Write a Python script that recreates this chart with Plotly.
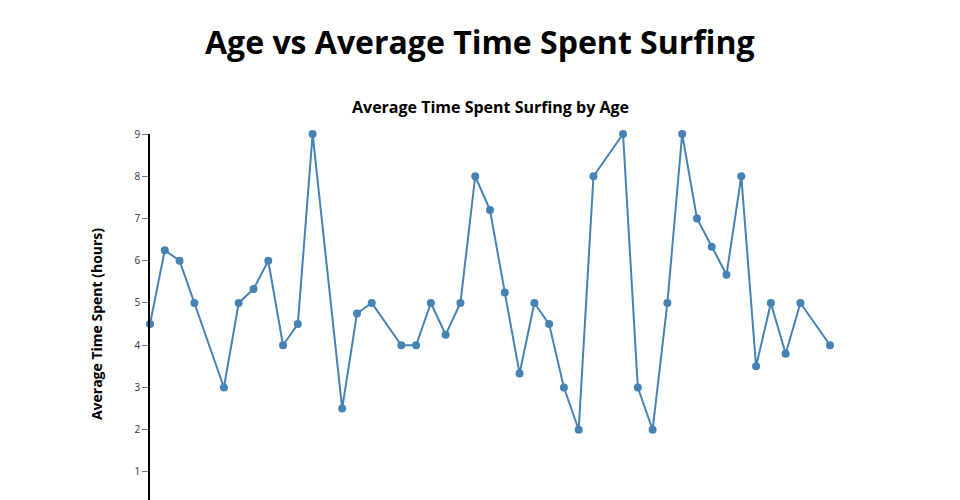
import plotly.graph_objects as go

# ages (x) and average hours spent surfing (y)
ages = [18, 19, 20, 21, 23, 24, 25, 26, 27, 28, 29, 31, 32, 33, 35, 36, 37, 38, 39, 40, 41,
        42, 43, 44, 45, 46, 47, 48, 50, 51, 52, 53, 54, 55, 56, 57, 58, 59, 60, 61, 62, 64]
avg_hours = [4.5, 6.25, 6.0, 5.0, 3.0, 5.0, 5.33, 6.0, 4.0, 4.5, 9.0, 2.5, 4.75, 5.0, 4.0, 4.0,
             5.0, 4.25, 5.0, 8.0, 7.2, 5.25, 3.33, 5.0, 4.5, 3.0, 2.0, 8.0, 9.0, 3.0, 2.0, 5.0,
             9.0, 7.0, 6.33, 5.67, 8.0, 3.5, 5.0, 3.8, 5.0, 4.0]
y_ticks = [1, 2, 3, 4, 5, 6, 7, 8, 9]

FONT = 'Open Sans'
STEEL = '#4682b4'

fig = go.Figure()
fig.add_trace(go.Scatter(x=ages, y=avg_hours, mode='lines+markers', cliponaxis=False,
                         line=dict(color=STEEL, width=2),
                         marker=dict(color=STEEL, size=8),
                         name='Average Time Spent'))

# page body adds an 8px margin, so the figure is shifted left/up by that much
fig.update_layout(
    width=952, height=492,
    margin=dict(l=142, r=130, t=126, b=0),
    paper_bgcolor='white', plot_bgcolor='white',
    showlegend=False,
    font=dict(family=FONT, color='#333'),
    xaxis=dict(range=[min(ages), max(ages)], showgrid=False, zeroline=False,
               showticklabels=False, showline=False, ticks=''),
    yaxis=dict(range=[0.337, 9], tickvals=y_ticks, showgrid=False, zeroline=False,
               showline=True, linecolor='black', linewidth=1.5,
               ticks='outside', ticklen=6, tickcolor='#777', tickwidth=1,
               tickfont=dict(family=FONT, size=10, color='#333')),
    annotations=[
        dict(text='<b>Age vs Average Time Spent Surfing</b>', xref='paper', yref='paper',
             x=0.4853, y=1, yshift=93, xanchor='center', yanchor='middle', showarrow=False,
             font=dict(family=FONT, size=32, color='black')),
        dict(text='<b>Average Time Spent Surfing by Age</b>', xref='paper', yref='paper',
             x=0.5, y=1, yshift=27, xanchor='center', yanchor='middle', showarrow=False,
             font=dict(family=FONT, size=16, color='black')),
        dict(text='<b>Average Time Spent (hours)</b>', xref='paper', yref='y',
             x=0, y=4.5, xshift=-54, xanchor='center', yanchor='middle', textangle=-90,
             showarrow=False, font=dict(family=FONT, size=14, color='black')),
    ],
)

fig.write_html("out.html")
